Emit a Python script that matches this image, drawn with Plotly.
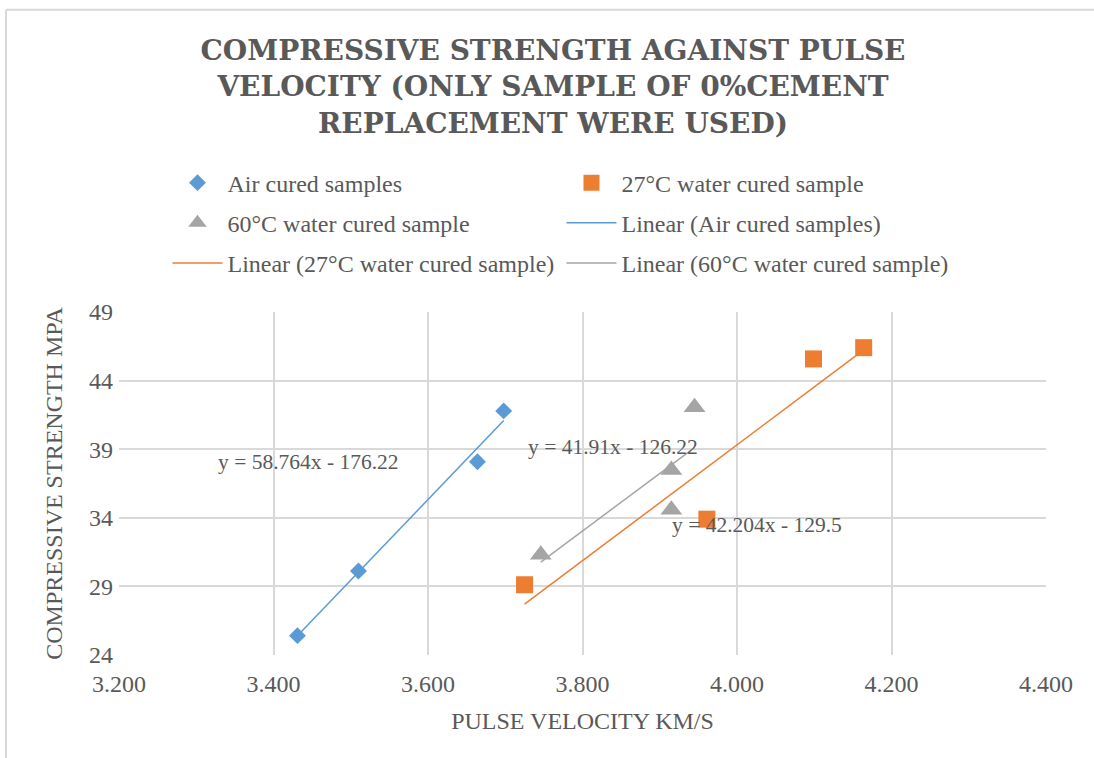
import numpy as np
import plotly.graph_objects as go

# Pulse velocity (km/s) and compressive strength (MPa), 0% cement replacement
air_velocity = [3.431, 3.510, 3.664, 3.698]
air_strength = [25.41, 30.12, 38.08, 41.79]

w27_velocity = [3.725, 3.961, 4.099, 4.164]
w27_strength = [29.12, 33.90, 45.58, 46.40]

w60_velocity = [3.746, 3.915, 3.915, 3.945]
w60_strength = [31.30, 37.49, 34.58, 42.06]

# Linear trendline coefficients (slope, intercept) as printed on the chart
air_fit = (58.764, -176.22)
w27_fit = (42.204, -129.5)
w60_fit = (41.91, -126.22)

x_ticks = [3.2, 3.4, 3.6, 3.8, 4.0, 4.2, 4.4]
y_ticks = [24, 29, 34, 39, 44, 49]

BLUE = "#5B9BD5"
ORANGE = "#ED7D31"
GRAY = "#A5A5A5"
TEXT = "#595959"
GRID = "#D9D9D9"
SERIF = "Liberation Serif"


def trend(xs, fit):
    xr = np.array([min(xs), max(xs)])
    return xr, fit[0] * xr + fit[1]


def eq_text(fit):
    return f"y = {fit[0]:g}x - {abs(fit[1]):g}"


fig = go.Figure()

fig.add_trace(go.Scatter(
    x=air_velocity, y=air_strength, mode="markers", name="Air cured samples",
    marker=dict(symbol="diamond", size=13, color=BLUE), legend="legend"))
fig.add_trace(go.Scatter(
    x=w27_velocity, y=w27_strength, mode="markers", name="27°C water cured sample",
    marker=dict(symbol="square", size=17, color=ORANGE), legend="legend"))
fig.add_trace(go.Scatter(
    x=w60_velocity, y=w60_strength, mode="markers", name="60°C water cured sample",
    marker=dict(symbol="triangle-up", size=19, color=GRAY), legend="legend2"))

tx, ty = trend(air_velocity, air_fit)
fig.add_trace(go.Scatter(x=tx, y=ty, mode="lines", name="Linear (Air cured samples)",
                         line=dict(color=BLUE, width=1.5), legend="legend2"))
tx, ty = trend(w27_velocity, w27_fit)
fig.add_trace(go.Scatter(x=tx, y=ty, mode="lines", name="Linear (27°C water cured sample)",
                         line=dict(color=ORANGE, width=1.5), legend="legend3"))
tx, ty = trend(w60_velocity, w60_fit)
fig.add_trace(go.Scatter(x=tx, y=ty, mode="lines", name="Linear (60°C water cured sample)",
                         line=dict(color=GRAY, width=1.5), legend="legend3"))

# Trendline equation labels
for fit, ax_, ay_ in [(air_fit, 3.445, 38.10), (w60_fit, 3.840, 39.17), (w27_fit, 4.026, 33.49)]:
    fig.add_annotation(x=ax_, y=ay_, xref="x", yref="y", text=eq_text(fit), showarrow=False,
                       font=dict(family=SERIF, size=21.5, color=TEXT))

legend_common = dict(orientation="h", xref="paper", yref="paper", xanchor="left",
                     yanchor="middle", entrywidth=329, entrywidthmode="pixels", itemwidth=50,
                     bgcolor="rgba(0,0,0,0)", font=dict(family=SERIF, size=24, color=TEXT),
                     itemclick=False, itemdoubleclick=False)

fig.update_layout(
    width=1094, height=758,
    margin=dict(l=118.5, r=48.3, t=312, b=102.7),
    paper_bgcolor="white", plot_bgcolor="white",
    title=dict(
        text="COMPRESSIVE STRENGTH AGAINST PULSE<br>VELOCITY (ONLY SAMPLE OF 0%CEMENT<br>REPLACEMENT WERE USED)",
        x=0.5055, xref="container", xanchor="center",
        y=1 - 60 / 758, yref="container", yanchor="top",
        font=dict(family="DejaVu Serif", size=28, color=TEXT, weight="bold")),
    legend=dict(x=(167 - 118.5) / 927.2, y=1.376, **legend_common),
    legend2=dict(x=(167 - 118.5) / 927.2, y=1.259, **legend_common),
    legend3=dict(x=(167 - 118.5) / 927.2, y=1.142, **legend_common),
    xaxis=dict(
        range=[3.2, 4.4], tickvals=x_ticks, tickformat=".3f",
        showgrid=True, gridcolor=GRID, gridwidth=1.5,
        zeroline=False, showline=False, ticks="", ticklabelstandoff=12,
        tickfont=dict(family=SERIF, size=24, color=TEXT),
        title=dict(text="PULSE VELOCITY KM/S", standoff=16,
                   font=dict(family=SERIF, size=24, color=TEXT))),
    yaxis=dict(
        range=[24, 49], tickvals=y_ticks,
        showgrid=True, gridcolor=GRID, gridwidth=1.5,
        zeroline=False, showline=False, ticks="", ticklabelstandoff=5,
        tickfont=dict(family=SERIF, size=24, color=TEXT),
        title=dict(text="COMPRESSIVE STRENGTH MPA", standoff=19,
                   font=dict(family=SERIF, size=24, color=TEXT))),
)

# Chart-area frame (left and top edges)
fig.add_shape(type="line", xref="paper", yref="paper", x0=-0.1219, x1=-0.1219, y0=1.881, y1=-0.31,
              line=dict(color=GRID, width=2))
fig.add_shape(type="line", xref="paper", yref="paper", x0=-0.1219, x1=1.06, y0=1.881, y1=1.881,
              line=dict(color=GRID, width=2))

fig.write_html("out.html")
